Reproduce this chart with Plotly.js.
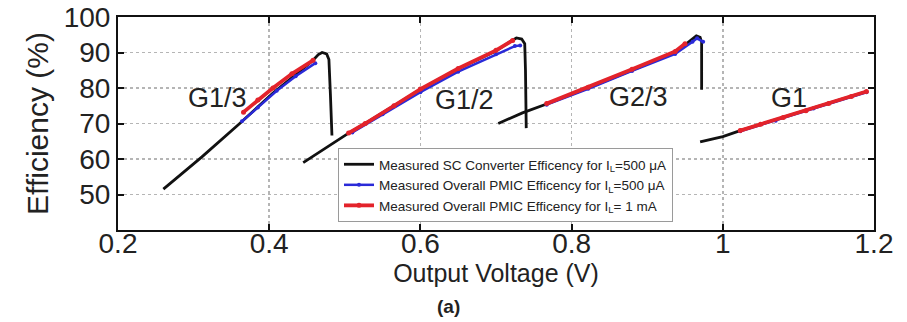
<!DOCTYPE html>
<html>
<head>
<meta charset="utf-8">
<script src="https://cdn.plot.ly/plotly-3.0.1.min.js"></script>
<style>html,body{margin:0;padding:0;background:#fff;}#chart{width:907px;height:322px;}</style>
</head>
<body>
<div id="chart"></div>
<script>
// Measured SC converter efficiency, IL = 500 uA (segments G1/3, G1/2, G2/3, G1 separated by null)
const scX = [0.26, 0.311, 0.361, 0.405, 0.44, 0.458, 0.465, 0.470, 0.476, 0.479, 0.481, 0.483, null,
             0.445, 0.475, 0.505, 0.527, 0.565, 0.60, 0.65, 0.70, 0.718, 0.727, 0.734, 0.738, 0.739, 0.740, null,
             0.703, 0.735, 0.767, 0.80, 0.822, 0.88, 0.937, 0.955, 0.965, 0.970, 0.972, 0.972, 0.972, null,
             0.970, 1.0, 1.023, 1.07, 1.12, 1.19];
const scY = [51.5, 60.6, 70.0, 78.6, 84.6, 87.8, 89.4, 90.0, 89.6, 88.0, 78.0, 66.6, null,
             59.0, 63.2, 67.3, 70.0, 75.0, 79.6, 85.4, 90.4, 93.0, 94.1, 93.8, 92.5, 85.0, 68.7, null,
             70.0, 73.0, 75.5, 78.2, 80.0, 85.0, 90.0, 93.0, 94.7, 94.3, 93.0, 86.0, 79.5, null,
             64.8, 66.3, 68.0, 71.0, 74.4, 79.0];
// Measured overall PMIC efficiency, IL = 500 uA
const pmic500X = [0.364, 0.385, 0.41, 0.435, 0.461, null,
                  0.51, 0.55, 0.60, 0.65, 0.70, 0.725, 0.732, null,
                  0.767, 0.822, 0.88, 0.937, 0.96, 0.966, 0.974, null,
                  1.023, 1.07, 1.12, 1.19];
const pmic500Y = [70.6, 74.5, 79.2, 83.3, 87.0, null,
                  67.5, 72.6, 78.8, 84.6, 89.5, 91.8, 92.0, null,
                  75.3, 79.8, 84.8, 89.6, 93.0, 94.0, 93.0, null,
                  67.8, 70.8, 74.2, 78.8];
// Measured overall PMIC efficiency, IL = 1 mA
const pmic1mX = [0.366, 0.385, 0.405, 0.43, 0.458, null,
                 0.505, 0.527, 0.565, 0.60, 0.65, 0.70, 0.722, null,
                 0.767, 0.822, 0.88, 0.937, 0.950, null,
                 1.023, 1.05, 1.08, 1.11, 1.14, 1.17, 1.19];
const pmic1mY = [73.2, 76.6, 80.0, 84.0, 87.8, null,
                 67.3, 70.0, 75.0, 79.7, 85.5, 90.6, 93.4, null,
                 75.6, 80.2, 85.3, 90.3, 92.5, null,
                 68.0, 69.8, 71.7, 73.6, 75.6, 77.6, 79.0];

const seriesNames = [
  'Measured SC Converter Efficency for I<sub>L</sub>=500 μA',
  'Measured Overall PMIC Efficency for I<sub>L</sub>=500 μA',
  'Measured Overall PMIC Efficency for I<sub>L</sub>= 1 mA'
];
const gearLabels = ['G1/3', 'G1/2', 'G2/3', 'G1'];
const gearLabelX = [0.331, 0.658, 0.889, 1.088];
const gearLabelY = [77.3, 76.7, 77.5, 77.3];
const xTicks = [0.2, 0.4, 0.6, 0.8, 1.0, 1.2];
const xTickText = ['0.2', '0.4', '0.6', '0.8', '1', '1.2'];
const yTicks = [50, 60, 70, 80, 90, 100];

const FONT = 'Liberation Sans, Arial, Helvetica, sans-serif';

const traces = [
  {x: scX, y: scY, name: seriesNames[0], mode: 'lines', connectgaps: false,
   line: {color: '#111111', width: 2.8}},
  {x: pmic500X, y: pmic500Y, name: seriesNames[1], mode: 'lines+markers', connectgaps: false,
   line: {color: '#2a2ad8', width: 2.5}, marker: {color: '#2a2ad8', size: 4}},
  {x: pmic1mX, y: pmic1mY, name: seriesNames[2], mode: 'lines+markers', connectgaps: false,
   line: {color: '#e3232b', width: 3.8}, marker: {color: '#e3232b', size: 5}}
];

const annotations = gearLabels.map((t, i) => ({
  x: gearLabelX[i], y: gearLabelY[i], xref: 'x', yref: 'y', text: t, showarrow: false,
  font: {family: FONT, size: 27, color: '#222'}
}));
annotations.push({
  x: 0.437, y: -0.42, xref: 'paper', yref: 'paper', yanchor: 'bottom', text: '<b>(a)</b>', showarrow: false,
  font: {family: FONT, size: 19, color: '#222'}
});

const layout = {
  width: 907, height: 322,
  margin: {l: 118, r: 33, t: 17, b: 92},
  paper_bgcolor: '#ffffff', plot_bgcolor: '#ffffff',
  font: {family: FONT, color: '#222'},
  showlegend: true,
  legend: {
    x: 0.291, y: 0.385, xanchor: 'left', yanchor: 'top',
    bgcolor: '#ffffff', bordercolor: '#9a9a9a', borderwidth: 1,
    font: {family: FONT, size: 13.5, color: '#222'},
    itemwidth: 30, tracegroupgap: 0
  },
  xaxis: {
    range: [0.2, 1.2], tickvals: xTicks, ticktext: xTickText,
    ticks: 'inside', ticklen: 6, tickwidth: 2, tickcolor: '#111',
    showline: true, linewidth: 2, linecolor: '#111', mirror: 'ticks',
    showgrid: true, gridcolor: '#b5b5b5', griddash: 'dot', gridwidth: 1.5,
    zeroline: false, ticklabelstandoff: -13,
    tickfont: {family: FONT, size: 28, color: '#222'},
    title: {text: 'Output Voltage (V)', font: {family: FONT, size: 25, color: '#222'}, standoff: 0}
  },
  yaxis: {
    range: [40, 100], tickvals: yTicks,
    ticks: 'inside', ticklen: 6, tickwidth: 2, tickcolor: '#111',
    showline: true, linewidth: 2, linecolor: '#111', mirror: 'ticks',
    showgrid: true, gridcolor: '#b5b5b5', griddash: 'dot', gridwidth: 1.5,
    zeroline: false,
    tickfont: {family: FONT, size: 28, color: '#222'},
    title: {text: 'Efficiency (%)', font: {family: FONT, size: 30, color: '#222'}, standoff: 6}
  },
  annotations: annotations
};

Plotly.newPlot('chart', traces, layout, {displayModeBar: false, staticPlot: true});
</script>
</body>
</html>
